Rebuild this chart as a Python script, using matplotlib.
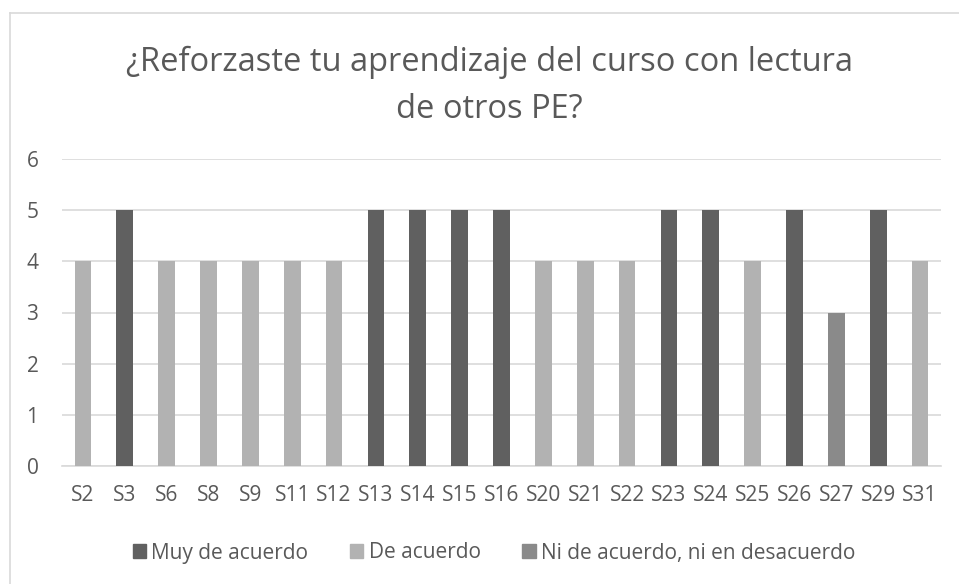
import matplotlib
matplotlib.use("Agg")
import matplotlib.pyplot as plt
from matplotlib.lines import Line2D
import numpy as np

categories = ["S2", "S3", "S6", "S8", "S9", "S11", "S12", "S13", "S14", "S15", "S16",
              "S20", "S21", "S22", "S23", "S24", "S25", "S26", "S27", "S29", "S31"]
muy_de_acuerdo = [0, 5, 0, 0, 0, 0, 0, 5, 5, 5, 5, 0, 0, 0, 5, 5, 0, 5, 0, 5, 0]
de_acuerdo = [4, 0, 4, 4, 4, 4, 4, 0, 0, 0, 0, 4, 4, 4, 0, 0, 4, 0, 0, 0, 4]
ni_ni = [0, 0, 0, 0, 0, 0, 0, 0, 0, 0, 0, 0, 0, 0, 0, 0, 0, 0, 3, 0, 0]
series_names = ["Muy de acuerdo", "De acuerdo", "Ni de acuerdo, ni en desacuerdo"]
yticks = [0, 1, 2, 3, 4, 5, 6]
title = "¿Reforzaste tu aprendizaje del curso con lectura\nde otros PE?"

colors = ["#606060", "#b2b2b2", "#8a8a8a"]
text_color = "#595959"
grid_color = "#d9d9d9"
plt.rcParams['font.family'] = ['Open Sans', 'DejaVu Sans']

W, H = 959, 584
fig = plt.figure(figsize=(W / 100, H / 100), dpi=100)
fig.patch.set_facecolor("white")

def fx(px):
    return px / W

def fy(py):
    return 1 - py / H

ax = fig.add_axes([fx(62), fy(466), fx(941) - fx(62), fy(159) - fy(466)])
x = np.arange(len(categories))
for vals, c, name in zip([muy_de_acuerdo, de_acuerdo, ni_ni], colors, series_names):
    ax.bar(x, vals, width=0.4, color=c, label=name, zorder=3)

ax.set_xlim(-0.5, len(categories) - 0.5)
ax.set_ylim(0, 6)
ax.set_yticks(yticks)
ax.set_xticks(x)
ax.set_xticklabels(categories)
ax.yaxis.grid(True, color=grid_color, linewidth=1.2, zorder=0)
ax.set_axisbelow(True)
for s in ["top", "right", "left"]:
    ax.spines[s].set_visible(False)
ax.spines["bottom"].set_color(grid_color)
ax.spines["bottom"].set_linewidth(1.2)
ax.tick_params(axis="both", length=0, colors=text_color, labelsize=15)
ax.tick_params(axis="y", pad=17)
ax.tick_params(axis="x", pad=14)

fig.text(fx(489), fy(86), title, ha="center", va="center", fontsize=23.5,
         color=text_color, linespacing=1.55)

handles = [plt.Rectangle((0, 0), 1, 1, color=c) for c in colors]
leg = fig.legend(handles, series_names, loc="center", bbox_to_anchor=(fx(494), fy(553)),
                 ncol=3, frameon=False, fontsize=15, handlelength=0.65, handleheight=0.65,
                 handletextpad=0.25, columnspacing=2.0, borderpad=0)
for t in leg.get_texts():
    t.set_color(text_color)

# chart border
fig.add_artist(Line2D([fx(10), fx(10)], [fy(13), 0], color="#d9d9d9", linewidth=1.2,
                      transform=fig.transFigure))
fig.add_artist(Line2D([fx(10), 1], [fy(13), fy(13)], color="#d9d9d9", linewidth=1.2,
                      transform=fig.transFigure))

fig.savefig("out.png", dpi=100, facecolor="white")
